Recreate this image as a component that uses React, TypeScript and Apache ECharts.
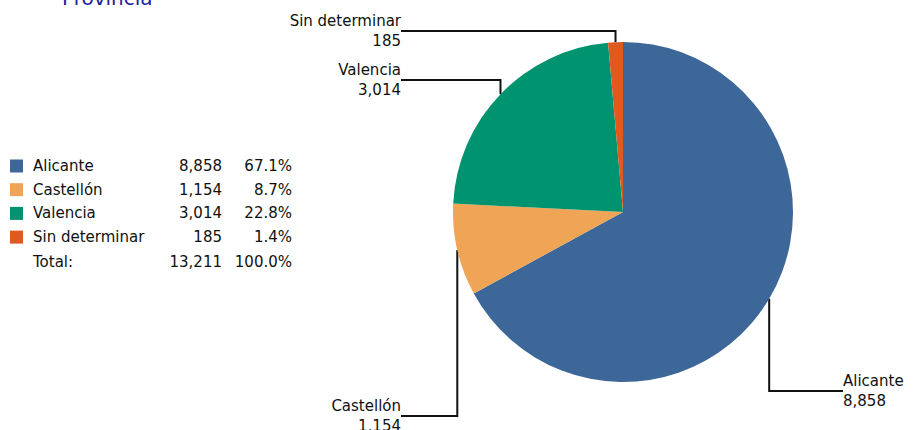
import React, { useEffect, useRef } from 'react';
import * as echarts from 'echarts';

// ---- data ----
const categories = ['Alicante', 'Castellón', 'Valencia', 'Sin determinar'];
const values = [8858, 1154, 3014, 185];
const colors = ['#3C6798', '#F0A455', '#009370', '#E0591F'];
const titleText = 'Provincia';
const totalLabel = 'Total:';

// ---- layout (not data) ----
const CENTER = [623, 212];
const RADIUS = 170;
const LABEL_LH = 20;
const labelPlacement = [
  { x: 843, top: 371, align: 'left' },
  { x: 401, top: 396, align: 'right' },
  { x: 401, top: 60, align: 'right' },
  { x: 401, top: 11, align: 'right' },
];
const FONT = 'DejaVu Sans';

const fmt = (v: number) => v.toLocaleString('en-US');

export default function App() {
  const ref = useRef<HTMLDivElement>(null);

  useEffect(() => {
    if (!ref.current) return;
    const chart = echarts.init(ref.current, undefined, { renderer: 'svg' });
    const total = values.reduce((a, b) => a + b, 0);
    const pct = (v: number) => ((v / total) * 100).toFixed(1) + '%';

    const rich = {
      s: { width: 5, fontSize: 15, fontFamily: FONT, lineHeight: 16 },
      n: { width: 129, fontSize: 15, fontFamily: FONT, color: '#111', lineHeight: 16 },
      v: { width: 60, align: 'right', fontSize: 15, fontFamily: FONT, color: '#111', lineHeight: 16 },
      p: { width: 70, align: 'right', fontSize: 15, fontFamily: FONT, color: '#111', lineHeight: 16 },
    };

    chart.setOption({
      animation: false,
      graphic: [
        {
          type: 'text',
          x: 62,
          y: -2,
          style: {
            text: titleText,
            fill: '#2020A0',
            font: `20px "${FONT}"`,
            verticalAlign: 'middle',
            align: 'left',
          },
        },
        {
          type: 'text',
          x: 28,
          y: 262,
          style: {
            text: `{s| }{n|${totalLabel}}{v|${fmt(total)}}{p|${pct(total)}}`,
            rich,
            verticalAlign: 'middle',
            align: 'left',
            fill: '#111',
            font: `15px "${FONT}"`,
          },
        },
      ],
      legend: {
        orient: 'vertical',
        left: 10,
        top: 158.5,
        itemWidth: 13,
        itemHeight: 13,
        itemGap: 8.7,
        icon: 'rect',
        padding: 0,
        selectedMode: false,
        data: categories,
        formatter: (name: string) => {
          const i = categories.indexOf(name);
          return `{s| }{n|${name}}{v|${fmt(values[i])}}{p|${pct(values[i])}}`;
        },
        textStyle: { rich, fontFamily: FONT, fontSize: 15, color: '#111' },
      },
      series: [
        {
          type: 'pie',
          center: CENTER,
          radius: RADIUS,
          startAngle: 90,
          clockwise: true,
          avoidLabelOverlap: false,
          minShowLabelAngle: 0,
          silent: true,
          itemStyle: { borderWidth: 0 },
          data: categories.map((c, i) => ({
            name: c,
            value: values[i],
            itemStyle: { color: colors[i] },
          })),
          label: {
            show: true,
            position: 'outside',
            formatter: (p: any) => `${p.name}\n${fmt(p.value)}`,
            fontFamily: FONT,
            fontSize: 15,
            color: '#111',
            lineHeight: LABEL_LH,
          },
          labelLine: {
            show: true,
            length: 10,
            length2: 10,
            smooth: false,
            lineStyle: { color: '#111', width: 2 },
          },
          labelLayout: (params: any) => {
            const i = params.dataIndex;
            const p = labelPlacement[i];
            let before = 0;
            for (let j = 0; j < i; j++) before += values[j];
            const midFrac = (before + values[i] / 2) / total;
            const ang = Math.PI / 2 - midFrac * 2 * Math.PI;
            const ax = CENTER[0] + RADIUS * Math.cos(ang);
            const ay = CENTER[1] - RADIUS * Math.sin(ang);
            const lineY = p.top + LABEL_LH;
            return {
              x: p.x,
              y: p.top,
              align: p.align,
              verticalAlign: 'top',
              labelLinePoints: [
                [ax, ay],
                [ax, lineY],
                [p.x, lineY],
              ],
            };
          },
        },
      ],
    });

    return () => chart.dispose();
  }, []);

  return (
    <div
      ref={ref}
      style={{ position: 'fixed', left: 0, top: 0, width: 913, height: 430, background: '#fff' }}
    />
  );
}
